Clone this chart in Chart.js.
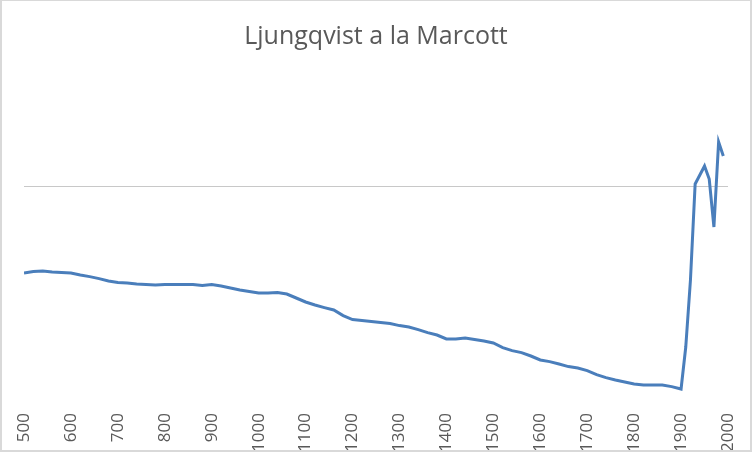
<!DOCTYPE html>
<html>
<head>
<meta charset="utf-8">
<script src="https://cdn.jsdelivr.net/npm/chart.js@4.4.1/dist/chart.umd.min.js"></script>
<style>
  body { margin: 0; background: #fff; }
</style>
</head>
<body>
<canvas id="chart" width="752" height="452"></canvas>
<script>
// years and temperature anomaly
const years = [
  500, 520, 540, 560, 580, 600, 620, 640, 660, 680,
  700, 720, 740, 760, 780, 800, 820, 840, 860, 880,
  900, 920, 940, 960, 980, 1000, 1020, 1040, 1060, 1080,
  1100, 1120, 1140, 1160, 1180, 1200, 1220, 1240, 1260, 1280,
  1300, 1320, 1340, 1360, 1380, 1400, 1420, 1440, 1460, 1480,
  1500, 1520, 1540, 1560, 1580, 1600, 1620, 1640, 1660, 1680,
  1700, 1720, 1740, 1760, 1780, 1800, 1820, 1840, 1860, 1880,
  1900, 1910, 1920, 1930, 1950, 1960, 1970, 1980, 1990
];
const anomaly = [
  -0.435, -0.428, -0.425, -0.43, -0.433, -0.435, -0.445, -0.453, -0.463, -0.475,
  -0.483, -0.485, -0.49, -0.493, -0.495, -0.493, -0.493, -0.493, -0.493, -0.498,
  -0.493, -0.5, -0.51, -0.52, -0.528, -0.535, -0.535, -0.533, -0.54, -0.56,
  -0.58, -0.595, -0.608, -0.62, -0.648, -0.668, -0.673, -0.678, -0.683, -0.688,
  -0.698, -0.705, -0.718, -0.733, -0.745, -0.765, -0.765, -0.76, -0.768, -0.775,
  -0.785, -0.808, -0.823, -0.833, -0.85, -0.87, -0.878, -0.89, -0.903, -0.91,
  -0.923, -0.943, -0.958, -0.97, -0.98, -0.99, -0.995, -0.995, -0.995, -1.003,
  -1.015, -0.805, -0.47, 0.01, 0.1, 0.035, -0.205, 0.22, 0.15
];
const gridValues = [0];

const frame = {
  id: "frame",
  afterDraw(chart) {
    const c = chart.ctx;
    c.save();
    c.fillStyle = "#d9d9d9";
    c.fillRect(0, 0, 752, 1);
    c.fillRect(0, 0, 2, 452);
    c.fillRect(750, 0, 2, 452);
    c.fillRect(0, 450, 752, 2);
    c.restore();
  }
};

new Chart(document.getElementById("chart"), {
  type: "line",
  data: {
    datasets: [
      {
        data: years.map((y, i) => ({ x: y, y: anomaly[i] })),
        borderColor: "#4a7ebb",
        borderWidth: 3,
        pointRadius: 0,
        tension: 0,
        fill: false,
      },
    ],
  },
  options: {
    responsive: false,
    animation: false,
    layout: { padding: { left: 24, right: 24, top: 0, bottom: 0 } },
    plugins: {
      legend: { display: false },
      tooltip: { enabled: false },
      title: {
        display: true,
        text: "Ljungqvist a la Marcott",
        color: "#595959",
        font: { family: "'Open Sans'", size: 25, weight: "normal" },
        padding: { top: 22, bottom: 8 },
      },
    },
    scales: {
      x: {
        type: "linear",
        min: 500,
        max: 2000,
        grid: { display: false, drawTicks: false },
        border: { display: false },
        ticks: {
          stepSize: 100,
          minRotation: 90,
          maxRotation: 90,
          padding: 13,
          color: "#595959",
          font: { family: "'Open Sans'", size: 17 },
          callback: (v) => String(v),
        },
        afterFit(scale) {
          scale.height = 52;
          scale.paddingLeft = 0;
          scale.paddingRight = 0;
        },
      },
      y: {
        min: -1.07,
        max: 0.63,
        grid: { color: "#c8c8c8", lineWidth: 1, drawTicks: false },
        border: { display: false },
        ticks: { display: false },
        afterBuildTicks(scale) {
          scale.ticks = gridValues.map((v) => ({ value: v }));
        },
        afterFit(scale) {
          scale.width = 0;
        },
      },
    },
  },
  plugins: [frame],
});
</script>
</body>
</html>
